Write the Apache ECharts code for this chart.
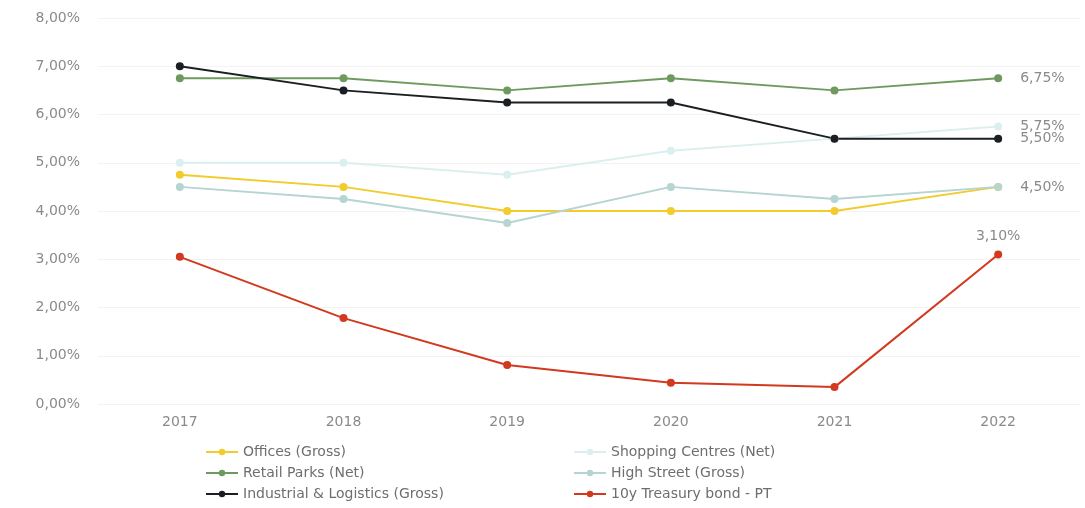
<!DOCTYPE html>
<html>
<head>
<meta charset="utf-8">
<script src="https://cdn.jsdelivr.net/npm/echarts@6/dist/echarts.min.js"></script>
<style>
html,body{margin:0;padding:0;background:#fff;}
#chart{width:1085px;height:508px;}
</style>
</head>
<body>
<div id="chart"></div>
<script>
const years = ['2017', '2018', '2019', '2020', '2021', '2022'];
const offices = [4.75, 4.50, 4.00, 4.00, 4.00, 4.50];
const shoppingCentres = [5.00, 5.00, 4.75, 5.25, 5.50, 5.75];
const retailParks = [6.75, 6.75, 6.50, 6.75, 6.50, 6.75];
const highStreet = [4.50, 4.25, 3.75, 4.50, 4.25, 4.50];
const industrial = [7.00, 6.50, 6.25, 6.25, 5.50, 5.50];
const treasury = [3.05, 1.78, 0.81, 0.44, 0.35, 3.10];
const yTicks = [0, 1, 2, 3, 4, 5, 6, 7, 8];

const fmt = v => v.toFixed(2).replace('.', ',') + '%';
const FONT = '"DejaVu Sans", Verdana, sans-serif';

function withEndLabel(arr, pos) {
  return arr.map((v, i) => i === arr.length - 1
    ? { value: v, label: { show: true, position: pos, distance: pos === 'top' ? 7 : 18, formatter: p => fmt(p.value), color: '#8a8a8a', fontSize: 14, fontFamily: FONT } }
    : v);
}

function mk(name, data, color, endPos) {
  return {
    name: name,
    type: 'line',
    data: endPos ? withEndLabel(data, endPos) : data,
    symbol: 'circle',
    symbolSize: 8,
    itemStyle: { color: color },
    lineStyle: { color: color, width: 2 },
    emphasis: { disabled: true }
  };
}

const legendText = { color: '#6e6e6e', fontSize: 14, fontFamily: FONT };

const chart = echarts.init(document.getElementById('chart'));
chart.setOption({
  animation: false,
  backgroundColor: '#ffffff',
  textStyle: { fontFamily: FONT },
  grid: { left: 98, right: 5, top: 18, bottom: 104 },
  xAxis: {
    type: 'category',
    data: years,
    boundaryGap: true,
    axisLine: { show: false },
    axisTick: { show: false },
    axisLabel: { color: '#8a8a8a', fontSize: 14, margin: 11, fontFamily: FONT },
    splitLine: { show: false }
  },
  yAxis: {
    type: 'value',
    min: yTicks[0],
    max: yTicks[yTicks.length - 1],
    interval: 1,
    axisLine: { show: false },
    axisTick: { show: false },
    axisLabel: { color: '#8a8a8a', fontSize: 14, margin: 18, fontFamily: FONT, formatter: v => fmt(v) },
    splitLine: { lineStyle: { color: '#f3f3f3', width: 1 } }
  },
  legend: [
    {
      orient: 'vertical',
      left: 200,
      top: 440,
      itemWidth: 32,
      itemHeight: 8,
      itemGap: 7,
      textStyle: legendText,
      data: ['Offices (Gross)', 'Retail Parks (Net)', 'Industrial & Logistics (Gross)']
    },
    {
      orient: 'vertical',
      left: 568,
      top: 440,
      itemWidth: 32,
      itemHeight: 8,
      itemGap: 7,
      textStyle: legendText,
      data: ['Shopping Centres (Net)', 'High Street (Gross)', '10y Treasury bond - PT']
    }
  ],
  series: [
    mk('Offices (Gross)', offices, '#f2cb2c', null),
    mk('Shopping Centres (Net)', shoppingCentres, '#dcefef', 'right'),
    mk('Retail Parks (Net)', retailParks, '#6f9a5f', 'right'),
    mk('High Street (Gross)', highStreet, '#b6d4d2', 'right'),
    mk('Industrial & Logistics (Gross)', industrial, '#1b1e22', 'right'),
    mk('10y Treasury bond - PT', treasury, '#d2391f', 'top')
  ]
});
</script>
</body>
</html>
